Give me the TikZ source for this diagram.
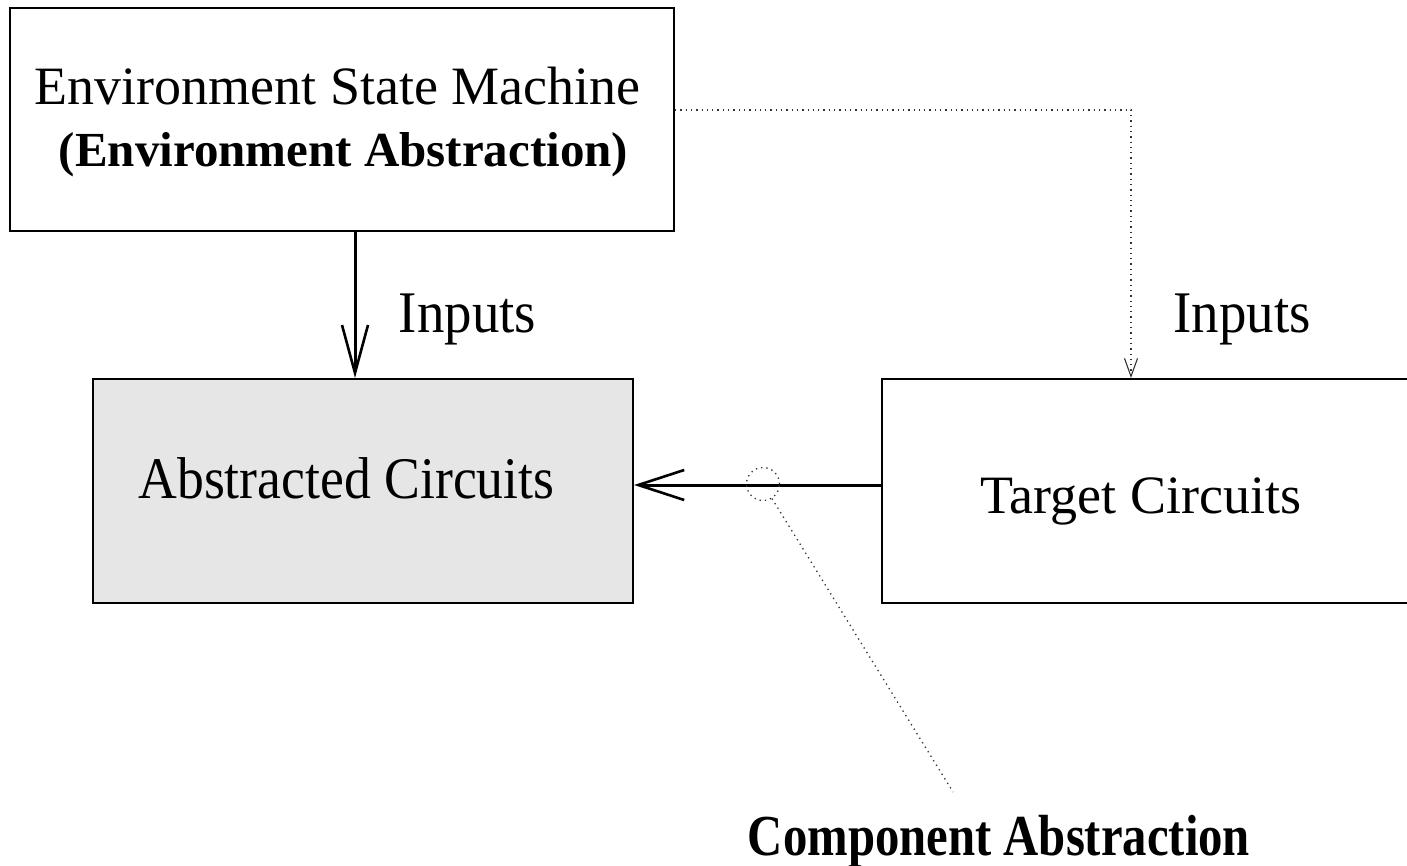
\documentclass[tikz,border=0pt]{standalone}
\usepackage{fontspec}
\setmainfont{Liberation Serif}
\usetikzlibrary{arrows.meta}
\definecolor{shade}{RGB}{230,230,230}
\definecolor{dotgray}{RGB}{50,50,50}
\tikzset{
  box/.style={draw=black, line width=2pt, rectangle, inner sep=0pt},
  lbl/.style={anchor=base, inner sep=0pt, font=\fontsize{54}{60}\selectfont},
  biglbl/.style={anchor=base, inner sep=0pt, font=\fontsize{59}{64}\selectfont},
  blbl/.style={anchor=base, inner sep=0pt, font=\fontsize{49}{56}\selectfont\bfseries},
  bbiglbl/.style={anchor=base, inner sep=0pt, font=\fontsize{58}{64}\selectfont\bfseries},
  flow/.style={line width=3pt, -{Straight Barb[length=48pt,width=26pt,line width=2.6pt]}},
  dots/.style={draw=dotgray, line width=1.3pt, dash pattern=on 1.3pt off 4pt},
  dotarrow/.style={dots, -{Straight Barb[length=18pt,width=13pt,line width=1.1pt]}},
}
\begin{document}
\begin{tikzpicture}[x=1pt, y=-1pt]
  \useasboundingbox (0,0) rectangle (1407,866);
  \clip (0,0) rectangle (1407,866);

  % boxes
  \node[box, minimum width=664pt, minimum height=223pt] (env) at (342,119.5) {};
  \node[box, fill=shade, minimum width=540pt, minimum height=224pt] (abs) at (363,491) {};
  \node[box, minimum width=540pt, minimum height=224pt] (tgt) at (1152,491) {};

  % box texts
  \node[lbl] (envA) at (337.5,105) {Environment State Machine};
  \node[blbl] (envB) at (343.5,167) {(Environment Abstraction)};
  \node[biglbl] (absT) at (346.5,498) {\scalebox{0.91}[1]{Abstracted Circuits}};
  \node[lbl] (tgtT) at (1141,513) {Target Circuits};

  % helper coordinates
  \coordinate (dnx) at (355,0);
  \coordinate (rx) at (1131,0);
  \coordinate (ry) at (0,110);
  \coordinate (hy) at (0,485);

  % inputs to the abstracted circuits
  \draw[flow] (env.south -| dnx) -- (abs.north -| dnx);
  \node[biglbl] (inL) at (467.5,333) {\scalebox{0.93}[1]{Inputs}};

  % inputs to the target circuits
  \draw[dotarrow] (env.east |- ry) -| (tgt.north -| rx);
  \node[biglbl] (inR) at (1242,333) {\scalebox{0.93}[1]{Inputs}};

  % abstraction of the target circuits
  \draw[flow, -{Straight Barb[length=46pt,width=30pt,line width=2.6pt]}] (tgt.west |- hy) -- (abs.east |- hy);

  % component abstraction callout
  \node[dots, circle, minimum size=33pt, inner sep=0pt] (ca) at (763,484) {};
  \coordinate (caEnd) at (953,792);
  \draw[dots] (ca) -- (caEnd);
  \node[bbiglbl] (caT) at (999,855) {\scalebox{0.84}[1]{Component Abstraction}};
\end{tikzpicture}
\end{document}
